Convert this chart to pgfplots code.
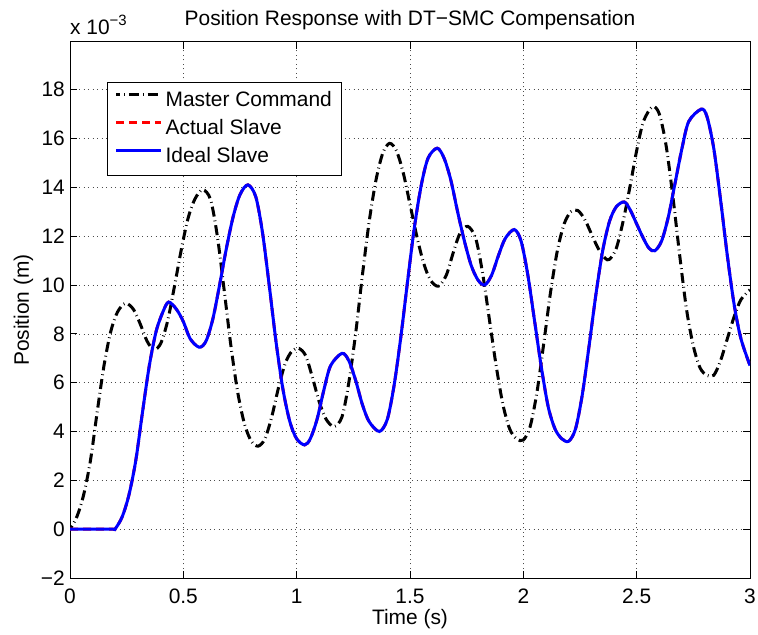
\documentclass[border=0pt]{standalone}
\usepackage{fontspec}
\setmainfont{Liberation Sans}
\usepackage{pgfplots}
\pgfplotsset{compat=1.18}
\newcommand{\ff}{\fontsize{21}{25}\selectfont}
\pgfplotstableread{
t v
0 0
0.03 0.5
0.06 1.4
0.09 2.8
0.12 4.8
0.15 6.7
0.18 8.1
0.21 8.9
0.245 9.25
0.28 9.0
0.31 8.4
0.34 7.7
0.37 7.35
0.40 7.6
0.43 8.5
0.46 9.9
0.49 11.4
0.52 12.7
0.55 13.5
0.585 13.9
0.62 13.5
0.65 12.0
0.68 9.8
0.71 7.5
0.74 5.6
0.77 4.3
0.80 3.6
0.83 3.4
0.86 3.7
0.89 4.6
0.92 5.8
0.95 6.8
0.98 7.3
1.01 7.4
1.04 7.1
1.07 6.2
1.10 5.2
1.13 4.5
1.165 4.2
1.20 4.6
1.23 6.0
1.26 8.0
1.29 10.4
1.32 12.6
1.35 14.3
1.38 15.4
1.41 15.8
1.44 15.5
1.47 14.6
1.50 13.3
1.53 12.0
1.56 10.9
1.59 10.2
1.625 9.95
1.66 10.4
1.69 11.3
1.72 12.1
1.755 12.4
1.79 11.9
1.82 10.5
1.85 8.6
1.88 6.7
1.91 5.1
1.94 4.1
1.97 3.7
2.0 3.65
2.03 4.2
2.06 5.6
2.09 7.6
2.12 9.7
2.15 11.4
2.18 12.5
2.21 13.0
2.24 13.05
2.27 12.7
2.30 12.1
2.33 11.5
2.36 11.1
2.38 11.05
2.41 11.5
2.44 12.6
2.47 14.0
2.50 15.5
2.53 16.7
2.57 17.3
2.60 17.0
2.63 15.7
2.66 13.6
2.69 11.2
2.72 9.0
2.75 7.5
2.78 6.6
2.81 6.3
2.84 6.3
2.87 6.9
2.90 7.8
2.93 8.7
2.96 9.4
3.0 9.8
}\master
\pgfplotstableread{
t v
0 0
0.1 0
0.19 0
0.2 0.02
0.23 0.5
0.26 1.4
0.29 2.8
0.32 4.8
0.35 6.7
0.38 8.1
0.41 8.9
0.435 9.3
0.47 9.0
0.50 8.5
0.53 7.8
0.57 7.45
0.60 7.7
0.63 8.6
0.66 10.0
0.69 11.5
0.72 12.8
0.75 13.7
0.785 14.1
0.82 13.6
0.85 12.1
0.88 9.9
0.91 7.6
0.94 5.7
0.97 4.4
1.0 3.7
1.035 3.45
1.06 3.7
1.09 4.5
1.12 5.7
1.15 6.7
1.2 7.2
1.23 6.9
1.26 6.1
1.29 5.1
1.32 4.4
1.365 4.0
1.40 4.5
1.43 5.9
1.46 7.9
1.49 10.2
1.52 12.4
1.55 14.1
1.58 15.2
1.62 15.6
1.65 15.2
1.68 14.3
1.71 13.0
1.74 11.8
1.77 10.8
1.80 10.2
1.83 10.0
1.86 10.4
1.89 11.2
1.92 11.9
1.96 12.27
1.99 11.8
2.02 10.4
2.05 8.5
2.08 6.6
2.11 5.0
2.14 4.1
2.17 3.7
2.2 3.6
2.23 4.1
2.26 5.5
2.29 7.5
2.32 9.6
2.35 11.4
2.38 12.6
2.41 13.2
2.445 13.4
2.47 13.1
2.50 12.5
2.53 11.9
2.555 11.5
2.58 11.4
2.61 11.8
2.64 12.8
2.67 14.2
2.70 15.6
2.73 16.7
2.785 17.2
2.81 16.9
2.84 15.6
2.87 13.5
2.90 11.2
2.93 9.2
2.96 7.8
3.0 6.7
}\slave
\begin{document}
\begin{tikzpicture}
\useasboundingbox (-70bp,-57bp) rectangle (688bp,578bp);
\begin{axis}[
  at={(0,0)}, anchor=south west, scale only axis,
  width=680bp, height=536bp,
  xmin=0, xmax=3, ymin=-2, ymax=19.95,
  xtick={0,0.5,1,1.5,2,2.5,3},
  xticklabels={0,0.5,1,1.5,2,2.5,3},
  ytick={-2,0,2,4,6,8,10,12,14,16,18},
  yticklabels={−2,0,2,4,6,8,10,12,14,16,18},
  tick align=inside, major tick length=7bp,
  xtick pos=both, ytick pos=both,
  axis line style={line width=1bp},
  every tick/.style={black, line width=0.8bp},
  grid=major,
  major grid style={black!70, line width=0.6bp, dash pattern=on 1bp off 3.5bp},
  xticklabel style={font=\ff, anchor=base, yshift=-25bp},
  yticklabel style={font=\ff, anchor=east, inner sep=0pt, xshift=-5bp},
  legend style={at={(0.0544,0.9254)}, anchor=north west, draw=black,
    line width=1.2bp, fill=white, font=\ff, inner xsep=7bp, inner ysep=7bp,
    row sep=5bp, cells={anchor=west},
    nodes={text height=15bp, text depth=4bp, inner xsep=3bp, inner ysep=2bp}},
  legend image code/.code={\draw[#1, yshift=7bp] (0bp,0bp) -- (45bp,0bp);},
]
\addplot[black, smooth, tension=0.5, line width=3bp, dash pattern=on 10bp off 4bp on 0.8bp off 4bp, dash phase=6bp] table[x=t,y=v] {\master};
\addlegendentry{Master Command}
\addplot[red, smooth, tension=0.5, line width=3bp, dash pattern=on 8bp off 5bp] table[x=t,y=v] {\slave};
\addlegendentry{Actual Slave}
\addplot[blue, smooth, tension=0.5, line width=3bp] table[x=t,y=v] {\slave};
\addlegendentry{Ideal Slave}
\end{axis}
\node[font=\ff, anchor=base] at (340bp,552bp) {Position Response with DT−SMC Compensation};
\node[font=\ff, anchor=base west, inner sep=0pt] at (0bp,543bp) {x 10\raisebox{0.45em}{\fontsize{15}{18}\selectfont −3}};
\node[font=\ff, anchor=base] at (340bp,-46bp) {Time (s)};
\node[font=\ff, anchor=base, rotate=90] at (-41bp,268bp) {Position (m)};
\end{tikzpicture}
\end{document}
